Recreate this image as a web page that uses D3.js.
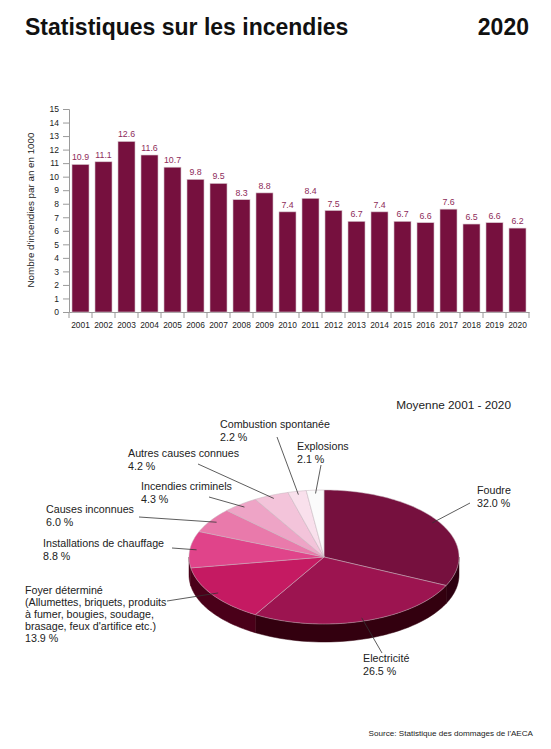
<!DOCTYPE html>
<html>
<head>
<meta charset="utf-8">
<script src="https://cdn.jsdelivr.net/npm/d3@7"></script>
<style>
  html, body { margin: 0; padding: 0; background: #fff; }
  svg { display: block; font-family: "Liberation Sans", Arial, sans-serif; }
</style>
</head>
<body>
<svg id="chart" width="551" height="749"></svg>
<script>
// ---------- DATA ----------
const years = ["2001","2002","2003","2004","2005","2006","2007","2008","2009","2010",
               "2011","2012","2013","2014","2015","2016","2017","2018","2019","2020"];
const fires = [10.9, 11.1, 12.6, 11.6, 10.7, 9.8, 9.5, 8.3, 8.8, 7.4,
               8.4, 7.5, 6.7, 7.4, 6.7, 6.6, 7.6, 6.5, 6.6, 6.2];
const yTicks = [0,1,2,3,4,5,6,7,8,9,10,11,12,13,14,15];

const causes = ["Foudre", "Electricité", "Foyer déterminé", "Installations de chauffage",
                "Causes inconnues", "Incendies criminels", "Autres causes connues",
                "Combustion spontanée", "Explosions"];
const causeShares = [32.0, 26.5, 13.9, 8.8, 6.0, 4.3, 4.2, 2.2, 2.1];
const causeLabelLines = [
  ["Foudre"],
  ["Electricité"],
  ["Foyer déterminé", "(Allumettes, briquets, produits", "à fumer, bougies, soudage,", "brasage, feux d'artifice etc.)"],
  ["Installations de chauffage"],
  ["Causes inconnues"],
  ["Incendies criminels"],
  ["Autres causes connues"],
  ["Combustion spontanée"],
  ["Explosions"]
];

// ---------- STYLE / LAYOUT ----------
const topColors  = ["#76103e","#9c1450","#c51a62","#e0448a","#e97aab","#eea4c6","#f3c4da","#f9e0ec","#fbfbfb"];
const sideColors = ["#2d0010","#33000f","#4a0019","#4a0019","#4a0019","#4a0019","#4a0019","#4a0019","#4a0019"];
// label anchor (x, first baseline), line height, leader outer point
const labelLayout = [
  {x:477, y:494, lh:13, lx:470, ly:503},
  {x:363, y:662, lh:13, lx:382, ly:653},
  {x:25,  y:594, lh:12, lx:167, ly:601},
  {x:43,  y:547, lh:13, lx:172, ly:548},
  {x:46,  y:513, lh:13, lx:139, ly:517},
  {x:141, y:490, lh:13, lx:209, ly:497},
  {x:128, y:457, lh:13, lx:198, ly:464},
  {x:220, y:428, lh:13, lx:277, ly:437},
  {x:297, y:450, lh:13, lx:321, ly:465}
];

const svg = d3.select("#chart");

// ---------- TITLE ----------
svg.append("text").attr("x", 25).attr("y", 35)
  .attr("font-size", 23).attr("font-weight", "bold").attr("fill", "#111")
  .text("Statistiques sur les incendies");
svg.append("text").attr("x", 529).attr("y", 35).attr("text-anchor", "end")
  .attr("font-size", 23).attr("font-weight", "bold").attr("fill", "#111")
  .text("2020");

// ---------- BAR CHART ----------
const x0 = 69, x1 = 529, yBase = 312, yTop = 109;
const x = d3.scaleBand().domain(years).range([x0, x1]).paddingInner(0.26).paddingOuter(0.13);
const y = d3.scaleLinear().domain([0, 15]).range([yBase, yTop]);
const axisColor = "#9a9a9a";

const gy = svg.append("g").attr("transform", `translate(${x0},0)`)
  .call(d3.axisLeft(y).tickValues(yTicks).tickSize(6).tickPadding(4).tickFormat(d3.format("d")));
gy.select(".domain").attr("stroke", axisColor);
gy.selectAll(".tick line").attr("stroke", axisColor);
gy.selectAll(".tick text").attr("font-size", 8.5).attr("fill", "#222").attr("font-family", "Liberation Sans, Arial, sans-serif");

const gx = svg.append("g").attr("transform", `translate(0,${yBase})`)
  .call(d3.axisBottom(x).tickSize(0).tickPadding(10));
gx.select(".domain").attr("stroke", axisColor);
gx.selectAll(".tick text").attr("font-size", 8.4).attr("fill", "#222").attr("font-family", "Liberation Sans, Arial, sans-serif");
// boundary ticks between categories
const boundaries = years.map(d => x(d) - x.step() * x.paddingInner() / 2).concat([x1]);
gx.selectAll(".bt").data(boundaries).join("line").attr("class", "bt")
  .attr("x1", d => d).attr("x2", d => d).attr("y1", 0).attr("y2", 6)
  .attr("stroke", axisColor);

svg.append("text")
  .attr("transform", `translate(34,210) rotate(-90)`)
  .attr("text-anchor", "middle").attr("font-size", 9.8).attr("fill", "#222")
  .text("Nombre d'incendies par an en 1000");

svg.append("g").selectAll("rect").data(fires).join("rect")
  .attr("x", (d, i) => x(years[i]))
  .attr("y", d => y(d))
  .attr("width", x.bandwidth())
  .attr("height", d => yBase - y(d))
  .attr("fill", "#76103e")
  .attr("stroke", "#d8c8cf").attr("stroke-width", 0.6);

svg.append("g").selectAll("text").data(fires).join("text")
  .attr("x", (d, i) => x(years[i]) + x.bandwidth() / 2)
  .attr("y", d => y(d) - 4)
  .attr("text-anchor", "middle").attr("font-size", 8.8).attr("fill", "#8e2c5a")
  .text(d => d.toFixed(1));

// ---------- PIE (3D) ----------
svg.append("text").attr("x", 511).attr("y", 409).attr("text-anchor", "end")
  .attr("font-size", 11.8).attr("fill", "#222").text("Moyenne 2001 - 2020");

const cx = 324, cy = 557, rx = 135, ry = 67, depth = 18;
const pt = (a, f = 1, dy = 0) => [cx + rx * f * Math.sin(a), cy - ry * f * Math.cos(a) + dy];
const arcs = d3.pie().sort(null).value(d => d)(causeShares);

const gPie = svg.append("g");
// sides (front half: angle between PI/2 and 3PI/2)
arcs.forEach((a, i) => {
  const s = Math.max(a.startAngle, Math.PI / 2), e = Math.min(a.endAngle, 3 * Math.PI / 2);
  if (e <= s) return;
  const n = 40, top = [], bot = [];
  for (let k = 0; k <= n; k++) {
    const t = s + (e - s) * k / n;
    top.push(pt(t));
    bot.push(pt(t, 1, depth));
  }
  const pts = top.concat(bot.reverse());
  gPie.append("path")
    .attr("d", "M" + pts.map(p => p.join(",")).join("L") + "Z")
    .attr("fill", sideColors[i]).attr("stroke", sideColors[i]).attr("stroke-width", 0.5);
});
// top faces
arcs.forEach((a, i) => {
  const n = Math.max(4, Math.ceil((a.endAngle - a.startAngle) * 40));
  const pts = [[cx, cy]];
  for (let k = 0; k <= n; k++) pts.push(pt(a.startAngle + (a.endAngle - a.startAngle) * k / n));
  gPie.append("path")
    .attr("d", "M" + pts.map(p => p.join(",")).join("L") + "Z")
    .attr("fill", topColors[i]).attr("stroke", "#c4b4bc").attr("stroke-width", 0.5);
});

// labels + leaders
arcs.forEach((a, i) => {
  const L = labelLayout[i];
  const mid = (a.startAngle + a.endAngle) / 2;
  const inner = pt(mid, 0.95);
  svg.append("line")
    .attr("x1", L.lx).attr("y1", L.ly).attr("x2", inner[0]).attr("y2", inner[1])
    .attr("stroke", "#333").attr("stroke-width", 0.8);
  const t = svg.append("text").attr("font-size", 10.7).attr("fill", "#222");
  const lines = causeLabelLines[i].concat([causeShares[i].toFixed(1) + " %"]);
  lines.forEach((ln, j) => {
    t.append("tspan").attr("x", L.x).attr("y", L.y + j * L.lh).text(ln);
  });
});

// ---------- SOURCE ----------
svg.append("text").attr("x", 533).attr("y", 736).attr("text-anchor", "end")
  .attr("font-size", 8.1).attr("fill", "#222").text("Source: Statistique des dommages de l'AECA");
</script>
</body>
</html>
